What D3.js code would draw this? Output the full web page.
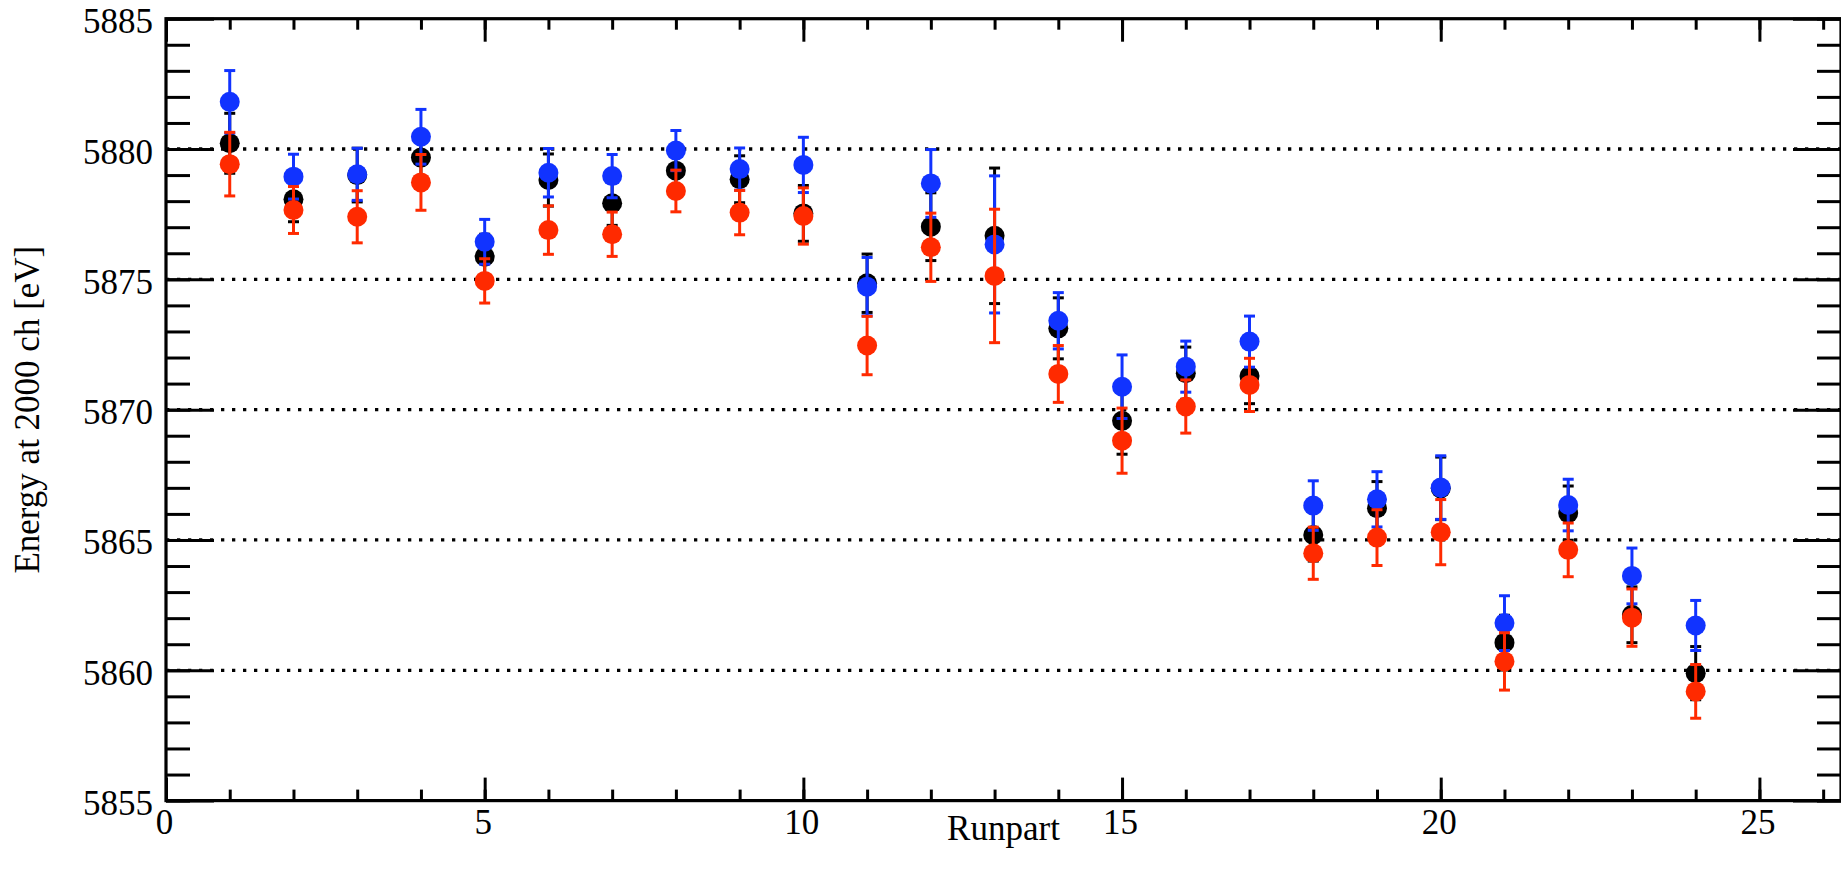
<!DOCTYPE html>
<html>
<head>
<meta charset="utf-8">
<script src="https://cdn.jsdelivr.net/npm/d3@7"></script>
<style>
  html, body { margin: 0; padding: 0; background: #fff; }
  svg { display: block; }
  svg text { font-family: "Liberation Serif", "Times New Roman", serif; font-size: 35px; fill: #000; }
</style>
</head>
<body>
<svg id="chart" width="1841" height="882"></svg>
<script>
// Energy calibration per run part, three fit variants with error bars
const runpart = [1, 2, 3, 4, 5, 6, 7, 8, 9, 10, 11, 12, 13, 14, 15, 16, 17, 18, 19, 20, 21, 22, 23, 24];

const energyBlack = [5880.22, 5878.07, 5879.00, 5879.67, 5875.87, 5878.81, 5877.92, 5879.17, 5878.84, 5877.53, 5874.85, 5877.02,
                     5876.67, 5873.12, 5869.57, 5871.40, 5871.29, 5865.19, 5866.22, 5866.98, 5861.06, 5866.03, 5862.13, 5859.89];
const errBlack    = [1.15, 0.86, 1.03, 1.00, 0.86, 1.00, 0.85, 0.80, 0.90, 1.07, 1.12, 1.30,
                     2.60, 1.17, 1.28, 1.00, 1.06, 1.00, 1.02, 1.20, 1.05, 1.04, 1.07, 1.02];

const energyBlue  = [5881.81, 5878.94, 5879.03, 5880.47, 5876.44, 5879.09, 5878.96, 5879.94, 5879.23, 5879.39, 5874.72, 5878.68,
                     5876.34, 5873.41, 5870.88, 5871.65, 5872.61, 5866.32, 5866.56, 5867.01, 5861.81, 5866.34, 5863.62, 5861.72];
const errBlue     = [1.20, 0.86, 1.00, 1.05, 0.86, 0.93, 0.83, 0.77, 0.81, 1.06, 1.12, 1.30,
                     2.63, 1.08, 1.22, 0.98, 0.98, 0.95, 1.06, 1.22, 1.05, 0.99, 1.07, 0.96];

const energyRed   = [5879.42, 5877.66, 5877.40, 5878.72, 5874.94, 5876.89, 5876.73, 5878.39, 5877.56, 5877.43, 5872.46, 5876.23,
                     5875.13, 5871.37, 5868.81, 5870.12, 5870.95, 5864.49, 5865.09, 5865.30, 5860.34, 5864.62, 5862.02, 5859.19];
const errRed      = [1.22, 0.90, 1.00, 1.07, 0.85, 0.93, 0.85, 0.80, 0.85, 1.08, 1.12, 1.31,
                     2.56, 1.09, 1.25, 1.02, 1.02, 1.00, 1.07, 1.25, 1.10, 1.03, 1.10, 1.03];

const xMajorTicks = [0, 5, 10, 15, 20, 25];
const yMajorTicks = [5855, 5860, 5865, 5870, 5875, 5880, 5885];
const gridLevels  = [5860, 5865, 5870, 5875, 5880];

const xTitle = "Runpart";
const yTitle = "Energy at 2000 ch [eV]";

// series drawn back to front
const series = [
  { name: "black", color: "#000000", values: energyBlack, errors: errBlack },
  { name: "blue",  color: "#1133ff", values: energyBlue,  errors: errBlue },
  { name: "red",   color: "#ff2a00", values: energyRed,   errors: errRed }
];

const svg = d3.select("#chart");
const plotLeft = 166, plotRight = 1841, plotTop = 18.7, plotBottom = 800.6;

const x = d3.scaleLinear().domain([0, 26.28]).range([plotLeft, plotRight]);
const y = d3.scaleLinear().domain([5855, 5885]).range([plotBottom, plotTop]);

const xMinor = d3.range(0, 27, 1);
const yMinor = d3.range(5855, 5886, 1);

// dotted reference lines
svg.append("g").selectAll("line").data(gridLevels).join("line")
  .attr("x1", plotLeft).attr("x2", plotRight)
  .attr("y1", d => y(d)).attr("y2", d => y(d))
  .attr("stroke", "#000").attr("stroke-width", 3.3)
  .attr("stroke-dasharray", "3.3 7.7");

// data: error bars then markers, one layer per series
const capHalf = 5.5;
series.forEach(s => {
  const pts = runpart.map((r, i) => ({ r, v: s.values[i], e: s.errors[i] }));
  const g = svg.append("g").attr("class", "series-" + s.name);
  g.selectAll("line.bar").data(pts).join("line").attr("class", "bar")
    .attr("x1", d => x(d.r)).attr("x2", d => x(d.r))
    .attr("y1", d => y(d.v + d.e)).attr("y2", d => y(d.v - d.e))
    .attr("stroke", s.color).attr("stroke-width", 3);
  g.selectAll("line.capHi").data(pts).join("line").attr("class", "capHi")
    .attr("x1", d => x(d.r) - capHalf).attr("x2", d => x(d.r) + capHalf)
    .attr("y1", d => y(d.v + d.e)).attr("y2", d => y(d.v + d.e))
    .attr("stroke", s.color).attr("stroke-width", 3);
  g.selectAll("line.capLo").data(pts).join("line").attr("class", "capLo")
    .attr("x1", d => x(d.r) - capHalf).attr("x2", d => x(d.r) + capHalf)
    .attr("y1", d => y(d.v - d.e)).attr("y2", d => y(d.v - d.e))
    .attr("stroke", s.color).attr("stroke-width", 3);
  g.selectAll("circle").data(pts).join("circle")
    .attr("cx", d => x(d.r)).attr("cy", d => y(d.v)).attr("r", 10)
    .attr("fill", s.color);
});

// axes with inward ticks on all four sides
function styleAxis(g) {
  g.attr("font-family", null).attr("font-size", null);
  g.select(".domain").remove();
  g.selectAll(".tick line").attr("stroke", "#000").attr("stroke-width", 3);
}

svg.append("g").attr("transform", `translate(${plotLeft},0)`)
  .call(d3.axisLeft(y).tickValues(yMinor).tickSize(-24).tickFormat(""))
  .call(styleAxis);
svg.append("g").attr("transform", `translate(${plotLeft},0)`)
  .call(d3.axisLeft(y).tickValues(yMajorTicks).tickSize(-48).tickPadding(13).tickFormat(d3.format("d")))
  .call(styleAxis)
  .call(g => g.selectAll("text").attr("dy", "0.40em"));

svg.append("g").attr("transform", `translate(${plotRight},0)`)
  .call(d3.axisRight(y).tickValues(yMinor).tickSize(-24).tickFormat(""))
  .call(styleAxis);
svg.append("g").attr("transform", `translate(${plotRight},0)`)
  .call(d3.axisRight(y).tickValues(yMajorTicks).tickSize(-48).tickFormat(""))
  .call(styleAxis);

svg.append("g").attr("transform", `translate(0,${plotBottom})`)
  .call(d3.axisBottom(x).tickValues(xMinor).tickSize(-11).tickFormat(""))
  .call(styleAxis);
svg.append("g").attr("transform", `translate(0,${plotBottom})`)
  .call(d3.axisBottom(x).tickValues(xMajorTicks).tickSize(-23).tickPadding(9).tickFormat(d3.format("d")))
  .call(styleAxis)
  .call(g => g.selectAll("text").attr("dx", -2));

svg.append("g").attr("transform", `translate(0,${plotTop})`)
  .call(d3.axisTop(x).tickValues(xMinor).tickSize(-11).tickFormat(""))
  .call(styleAxis);
svg.append("g").attr("transform", `translate(0,${plotTop})`)
  .call(d3.axisTop(x).tickValues(xMajorTicks).tickSize(-23).tickFormat(""))
  .call(styleAxis);

// frame
svg.append("rect")
  .attr("x", plotLeft).attr("y", plotTop)
  .attr("width", plotRight - plotLeft).attr("height", plotBottom - plotTop)
  .attr("fill", "none").attr("stroke", "#000").attr("stroke-width", 3.2);

// axis titles
svg.append("text")
  .attr("x", (plotLeft + plotRight) / 2).attr("y", 840)
  .attr("text-anchor", "middle")
  .text(xTitle);

svg.append("text")
  .attr("transform", `translate(39,${(plotTop + plotBottom) / 2}) rotate(-90)`)
  .attr("text-anchor", "middle")
  .text(yTitle);
</script>
</body>
</html>
